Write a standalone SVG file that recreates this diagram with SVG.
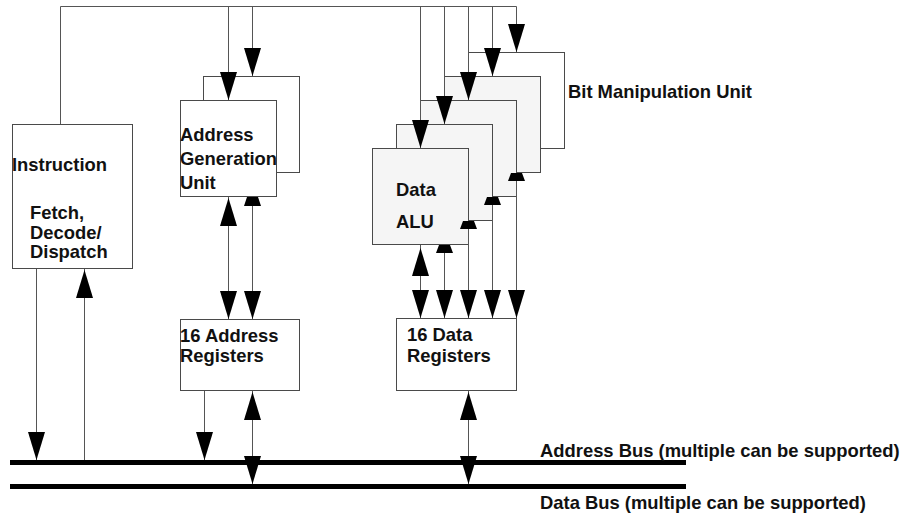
<svg xmlns="http://www.w3.org/2000/svg" xmlns:xlink="http://www.w3.org/1999/xlink" width="907" height="514" viewBox="0 0 907 514">
<style>
.box{fill:#fff;stroke:#4a4a4a;stroke-width:1}
.back{fill:none;stroke:#4a4a4a;stroke-width:1}
.gray{fill:#f5f5f5;stroke:#4a4a4a;stroke-width:1}
.ln{fill:none;stroke:#555;stroke-width:1}
.ah{fill:#000}
.bus{fill:#000}
text{font-family:"Liberation Sans",Arial,sans-serif;font-weight:bold;font-size:18.4px;fill:#111}
</style>
<defs>
<path id="ah" d="M0,0 L-8.5,-28 L8.5,-28 Z"/>
</defs>
<rect width="907" height="514" fill="#fff"/>

<g id="instruction">
<rect class="box" x="12.5" y="124.5" width="120" height="144"/>
<text x="12" y="171">Instruction</text>
<text x="30" y="219">Fetch,</text>
<text x="30" y="238.5">Decode/</text>
<text x="30" y="258">Dispatch</text>
</g>

<g id="agu">
<rect class="back" x="203.5" y="76.5" width="96" height="96"/>
<rect class="box" x="180.5" y="100.5" width="96" height="96"/>
<text x="180" y="141">Address</text>
<text x="180" y="165">Generation</text>
<text x="180" y="189">Unit</text>
</g>

<g id="address-registers">
<rect class="box" x="180.5" y="319.5" width="119" height="71"/>
<text x="180" y="342">16 Address</text>
<text x="180" y="362">Registers</text>
</g>

<g id="bit-manipulation">
<rect class="back" x="468.5" y="52.5" width="96" height="96"/>
<rect class="gray" x="444.5" y="76.5" width="96" height="96"/>
<rect class="gray" x="420.5" y="100.5" width="96" height="96"/>
<rect class="gray" x="396.5" y="124.5" width="96" height="96"/>
<text x="568" y="98">Bit Manipulation Unit</text>
</g>

<g id="data-alu">
<rect class="gray" x="372.5" y="148.5" width="96" height="96"/>
<text x="396" y="196">Data</text>
<text x="396" y="228">ALU</text>
</g>

<g id="data-registers">
<rect class="box" x="396.5" y="318.5" width="120" height="72"/>
<text x="407" y="341">16 Data</text>
<text x="407" y="362">Registers</text>
</g>

<g id="buses">
<rect class="bus" x="10" y="460" width="676" height="5"/>
<rect class="bus" x="10" y="484" width="676" height="5"/>
<text x="540" y="457">Address Bus (multiple can be supported)</text>
<text x="540" y="509">Data Bus (multiple can be supported)</text>
</g>

<g id="connectors">
<path class="ln" d="M60.5,124 V6.5 H516.5 V52"/>
<path class="ln" d="M228.5,6 V100 M252.5,6 V76 M420.5,6 V148 M444.5,6 V124 M468.5,6 V100 M492.5,6 V76"/>
<use href="#ah" class="ah" x="228.5" y="100"/>
<use href="#ah" class="ah" x="252.5" y="76"/>
<use href="#ah" class="ah" x="420.5" y="148"/>
<use href="#ah" class="ah" x="444.5" y="124"/>
<use href="#ah" class="ah" x="468.5" y="100"/>
<use href="#ah" class="ah" x="492.5" y="76"/>
<use href="#ah" class="ah" x="516.5" y="52"/>

<path class="ln" d="M228.5,197 V319 M252.5,197 V319"/>
<use href="#ah" class="ah" transform="translate(228.5,198) rotate(180)"/>
<polygon class="ah" points="247,197 258,197 261,206 244,206"/>
<use href="#ah" class="ah" x="228.5" y="319"/>
<use href="#ah" class="ah" x="252.5" y="319"/>

<path class="ln" d="M204.5,391 V460 M252.5,391 V484"/>
<use href="#ah" class="ah" x="204.5" y="460"/>
<use href="#ah" class="ah" transform="translate(252.5,392) rotate(180)"/>
<use href="#ah" class="ah" x="252.5" y="484"/>

<path class="ln" d="M36.5,269 V460 M84.5,460 V269"/>
<use href="#ah" class="ah" x="36.5" y="460"/>
<use href="#ah" class="ah" transform="translate(84.5,270) rotate(180)"/>

<path class="ln" d="M420.5,245 V318 M444.5,245 V318 M468.5,221 V318 M492.5,197 V318 M516.5,173 V318"/>
<use href="#ah" class="ah" transform="translate(420.5,248) rotate(180)"/>
<polygon class="ah" points="439,245 450,245 453,253 436,253"/>
<polygon class="ah" points="463,221 474,221 477,229 460,229"/>
<polygon class="ah" points="487,197 498,197 501,205 484,205"/>
<polygon class="ah" points="511,173 522,173 525,181 508,181"/>
<use href="#ah" class="ah" x="420.5" y="318"/>
<use href="#ah" class="ah" x="444.5" y="318"/>
<use href="#ah" class="ah" x="468.5" y="318"/>
<use href="#ah" class="ah" x="492.5" y="318"/>
<use href="#ah" class="ah" x="516.5" y="318"/>

<path class="ln" d="M468.5,391 V484"/>
<use href="#ah" class="ah" transform="translate(468.5,392) rotate(180)"/>
<use href="#ah" class="ah" x="468.5" y="484"/>
</g>
</svg>
